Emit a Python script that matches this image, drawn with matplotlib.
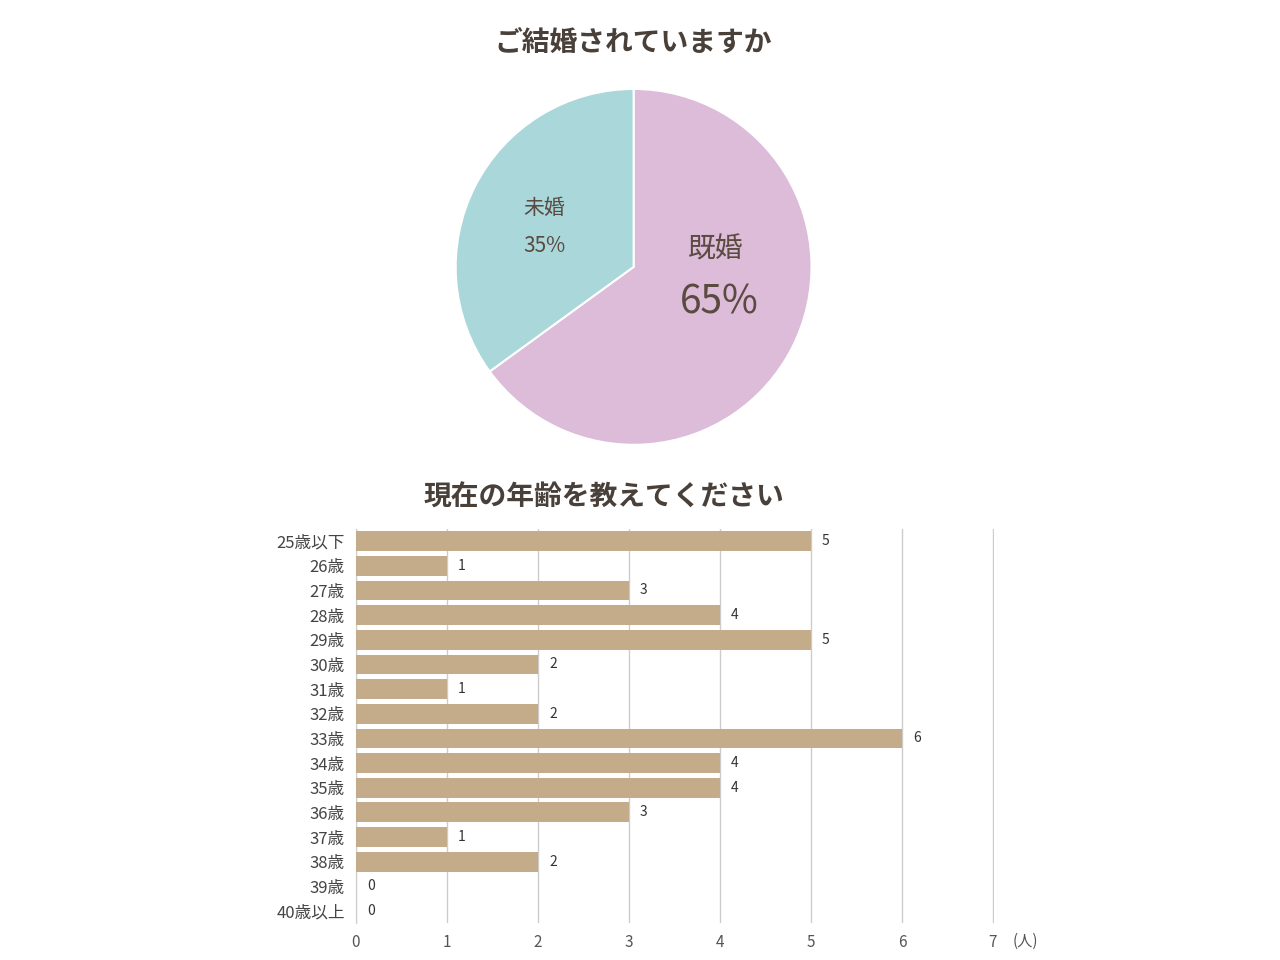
import matplotlib.pyplot as plt

plt.rcParams['font.family'] = ['Noto Sans CJK JP', 'DejaVu Sans']

# 円グラフのデータ
pie_labels = ["既婚", "未婚"]
pie_values = [65, 35]
pie_colors = ["#dcbcd9", "#a9d7da"]

# 棒グラフのデータ
ages = ["25歳以下", "26歳", "27歳", "28歳", "29歳", "30歳", "31歳", "32歳",
        "33歳", "34歳", "35歳", "36歳", "37歳", "38歳", "39歳", "40歳以上"]
counts = [5, 1, 3, 4, 5, 2, 1, 2, 6, 4, 4, 3, 1, 2, 0, 0]
xticks = [0, 1, 2, 3, 4, 5, 6, 7]

title_color = "#4a403a"
text_color = "#5a4a40"
bar_color = "#c4ab8a"

fig = plt.figure(figsize=(12.8, 9.6), dpi=100)

# --- 円グラフ ---
fig.text(0.495, 0.955, "ご結婚されていますか", ha="center", va="center",
         fontsize=20, fontweight="bold", color=title_color)
ax1 = fig.add_axes([0.356, 0.5365, 0.278, 0.371])
ax1.pie(pie_values, colors=pie_colors, startangle=90, counterclock=False,
        wedgeprops=dict(edgecolor="white", linewidth=1.5))
ax1.set_xlim(-1, 1)
ax1.set_ylim(-1, 1)
ax1.set_aspect("equal")
ax1.text(0.46, 0.10, pie_labels[0], ha="center", va="center", fontsize=20, color=text_color)
ax1.text(0.48, -0.20, f"{pie_values[0]}%", ha="center", va="center", fontsize=28, color=text_color)
ax1.text(-0.50, 0.33, pie_labels[1], ha="center", va="center", fontsize=15, color=text_color)
ax1.text(-0.50, 0.12, f"{pie_values[1]}%", ha="center", va="center", fontsize=15, color=text_color)

# --- 棒グラフ ---
fig.text(0.472, 0.482, "現在の年齢を教えてください", ha="center", va="center",
         fontsize=20, fontweight="bold", color=title_color)
ax2 = fig.add_axes([0.278, 0.0382, 0.4984, 0.411])
y = list(range(len(ages)))
bars = ax2.barh(y, counts, height=0.8, color=bar_color, zorder=3)
ax2.bar_label(bars, labels=[str(c) for c in counts], padding=8, fontsize=10, color="#333333")
ax2.set_yticks(y)
ax2.set_yticklabels(ages, fontsize=12, color="#444444")
ax2.set_ylim(len(ages) - 0.5, -0.5)
ax2.set_xlim(0, 7.01)
ax2.set_xticks(xticks)
ax2.set_xticklabels([str(t) for t in xticks], fontsize=11, color="#555555")
ax2.grid(axis="x", color="#cccccc", linewidth=1, zorder=0)
for s in ["top", "right", "bottom"]:
    ax2.spines[s].set_visible(False)
ax2.spines["left"].set_color("#cccccc")
ax2.tick_params(axis="both", length=0, pad=8)
fig.text(1025 / 1280, 1 - 941 / 960, "(人)", ha="center", va="center",
         fontsize=11, color="#555555")

fig.savefig("out.png", dpi=100, facecolor="white")
